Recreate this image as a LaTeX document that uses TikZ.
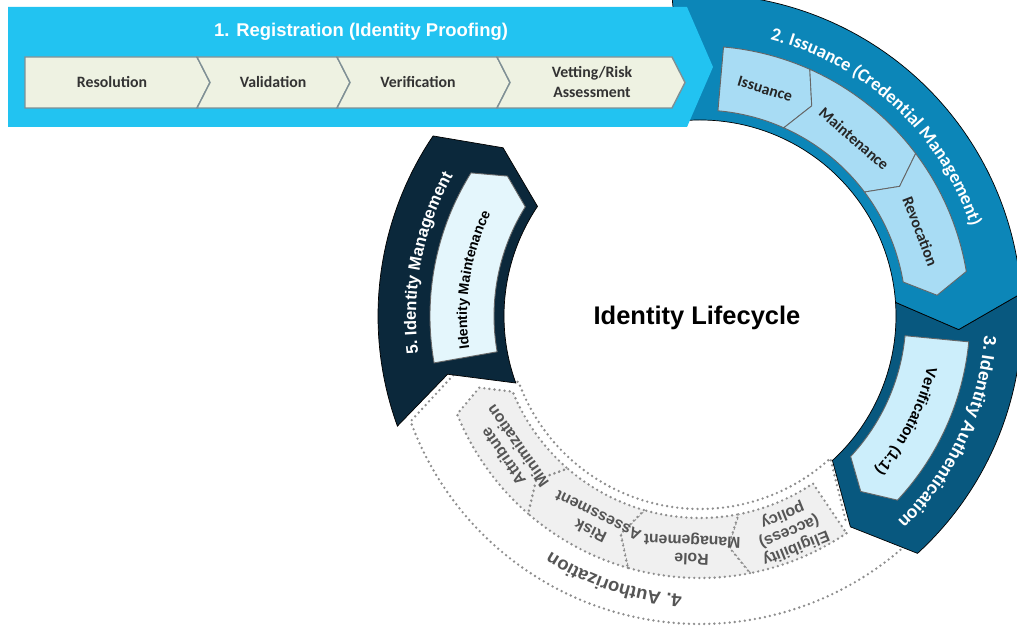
\documentclass[tikz,border=0pt]{standalone}
\usepackage{fontspec}
\setmainfont{Liberation Sans}
\newfontfamily\calibri{Carlito}
\usepackage{xcolor}
\usetikzlibrary{positioning,calc,decorations.text}

\definecolor{regblue}{HTML}{22C3F1}
\definecolor{issblue}{HTML}{0C86B8}
\definecolor{authblue}{HTML}{08587F}
\definecolor{mgmtnavy}{HTML}{0B283B}
\definecolor{regbox}{HTML}{EEF2E2}
\definecolor{regedge}{HTML}{7F9095}
\definecolor{issbox}{HTML}{A8DCF4}
\definecolor{authbox}{HTML}{CCEEFB}
\definecolor{mgmtbox}{HTML}{E4F6FC}
\definecolor{azbox}{HTML}{F0F0F0}
\definecolor{dotgray}{HTML}{8E8E8E}
\definecolor{azgray}{HTML}{555555}

\newcommand{\ringpart}[7]{%
  \pgfmathsetmacro{\rmid}{(#4+#5)/2}%
  \draw[#1] (#2:#5) arc[start angle=#2, end angle=#3, radius=#5]
    -- ({#3-#7}:\rmid) -- (#3:#4) arc[start angle=#3, end angle=#2, radius=#4]
    -- ({#2-#6}:\rmid) -- cycle;}

\newcommand{\arclabel}[5]{%
  \path[decorate, decoration={text along path, text align=center, #1, text={#5}}]
    (#2:#4) arc[start angle=#2, end angle=#3, radius=#4];}

\begin{document}
\begin{tikzpicture}[x=0.2mm, y=0.2mm,
    band/.style={fill=#1},
    subbox/.style={fill=#1, draw=black!60, line width=0.5pt},
    dotline/.style={draw=dotgray, line width=1.5pt, line cap=round, dash pattern=on 0pt off 2.9pt},
    regchev/.style={fill=regbox, draw=regedge, line width=0.8pt},
    bartitle/.style={text=white, font=\fontsize{10.5}{12}\selectfont\bfseries},
    regtext/.style={align=center, text=black!80, font=\calibri\fontsize{9}{11}\selectfont\bfseries},
    isstext/.style={text=black!85, font=\calibri\fontsize{9}{11}\selectfont\bfseries},
    aztext/.style={align=center, text=azgray, font=\fontsize{9}{10}\selectfont\bfseries, inner sep=0pt}]
\fill[white] (0,0) rectangle (1017,626);
\useasboundingbox (0,0) rectangle (1017,626);

\begin{scope}[shift={(700,310)}]
\ringpart{fill=white, dotline}{-47.5}{-160}{193}{308}{7}{7}
\ringpart{fill=azbox, dotline}{-56}{-79}{202}{262}{0}{4}
\ringpart{fill=azbox, dotline}{-79}{-106}{202}{262}{4}{4}
\ringpart{fill=azbox, dotline}{-106}{-131}{202}{262}{4}{4}
\ringpart{fill=azbox, dotline}{-131}{-158}{202}{262}{4}{4}
\ringpart{band=authblue}{4}{-47.5}{196}{322}{7}{7}
\ringpart{subbox=authbox}{-5.5}{-43}{206}{270}{0}{4.5}
\ringpart{band=issblue}{95}{4}{196}{322}{0}{7}
\ringpart{subbox=issbox}{85}{66}{206}{270}{0}{4}
\ringpart{subbox=issbox}{66}{37}{206}{270}{4}{4}
\ringpart{subbox=issbox}{37}{9.5}{206}{270}{4}{4.5}
\ringpart{band=mgmtnavy}{200}{146}{196}{322}{7}{6.5}
\ringpart{subbox=mgmtbox}{190}{148}{206}{270}{0}{4}

\arclabel{text color=white}{82}{12}{285}{|\calibri\fontsize{10.5}{12}\selectfont\bfseries|2. Issuance (Credential Management)}
\arclabel{text color=white}{2}{-52}{285}{|\fontsize{10}{12}\selectfont\bfseries|3. Identity Authentication}
\arclabel{text color=azgray}{-80}{-136}{279}{|\fontsize{10.5}{12}\selectfont\bfseries|4. Authorization}
\arclabel{text color=white}{200}{138}{284}{|\fontsize{9.5}{11}\selectfont\bfseries|5. Identity Management}
\arclabel{text color=black}{0}{-54}{233}{|\fontsize{8.5}{10}\selectfont\bfseries|Verification (1:1)}
\arclabel{text color=black}{196}{146}{233}{|\fontsize{8}{10}\selectfont\bfseries|Identity Maintenance}

\node (issuance) [isstext, rotate=-17] at (74:236) {Issuance};
\node (maintenance) [isstext, rotate=-41] at (49:235) {Maintenance};
\node (revocation) [isstext, rotate=-69] at (21:236) {Revocation};
\node (eligibility) [aztext, rotate=-158] at (-67.5:233) {Eligibility\\(access)\\policy};
\node (role) [aztext, rotate=178] at (-92:233) {Role\\Management};
\node (risk) [aztext, rotate=154] at (-117:233) {Risk\\Assessment};
\node (attribute) [aztext, rotate=125] at (-144.5:233) {Attribute\\Minimization};
\end{scope}

\fill[regblue] (8,619) -- (687,619) -- (713,559) -- (687,499) -- (8,499) -- cycle;
\draw[regchev] (25,569) -- (197,569) -- (210,543.5) -- (197,518) -- (25,518) -- cycle;
\draw[regchev] (197,569) -- (337,569) -- (350,543.5) -- (337,518) -- (197,518) -- (210,543.5) -- cycle;
\draw[regchev] (337,569) -- (497,569) -- (510,543.5) -- (497,518) -- (337,518) -- (350,543.5) -- cycle;
\draw[regchev] (497,569) -- (672,569) -- (685,543.5) -- (672,518) -- (497,518) -- (510,543.5) -- cycle;

\node (title) [bartitle] at (361,594) {1. Registration (Identity Proofing)};
\node (resolution) [regtext] at (112,544) {Resolution};
\node (validation) [regtext] at (273,544) {Validation};
\node (verification) [regtext] at (418,544) {Verification};
\node (vetting) [regtext] at (592,544) {Vetting/Risk\\Assessment};
\node (lifecycle) [font=\fontsize{14.5}{17}\selectfont\bfseries] at (697,308) {Identity Lifecycle};
\end{tikzpicture}
\end{document}
